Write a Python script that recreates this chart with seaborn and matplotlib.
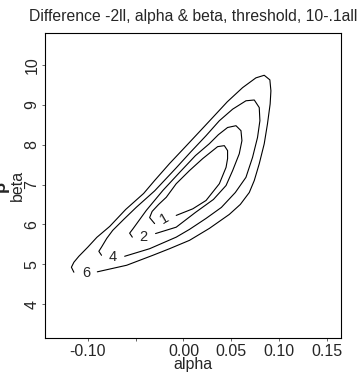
import pandas as pd
import matplotlib.pyplot as plt
import seaborn as sns

sns.set_style("white")
plt.rcParams["font.family"] = ["Liberation Sans", "DejaVu Sans"]

# contour paths (alpha, beta), each starts/ends at its label gap
c1_alpha = [-0.0302, -0.0354, -0.0328, -0.0260, -0.0180, -0.0076, 0.0063, 0.0201,
            0.0357, 0.0427, 0.0461, 0.0461, 0.0445, 0.0375, 0.0236, 0.0097, -0.0076]
c1_beta = [6.02, 6.17, 6.325, 6.50, 6.68, 7.02, 7.35, 7.65,
           7.95, 7.975, 7.85, 7.65, 7.43, 7.02, 6.60, 6.39, 6.225]

c2_alpha = [-0.0535, -0.0563, -0.0528, -0.0389, -0.0216, -0.0042, 0.0125, 0.0271,
            0.0365, 0.0461, 0.0549, 0.0601, 0.0611, 0.0583, 0.0514, 0.0445,
            0.0313, 0.0125, -0.0076, -0.0292]
c2_beta = [5.68, 5.78, 5.89, 6.35, 6.85, 7.30, 7.725, 8.025,
           8.25, 8.43, 8.475, 8.35, 8.10, 7.77, 7.35, 6.975,
           6.625, 6.30, 5.93, 5.77]

c4_alpha = [-0.0857, -0.0885, -0.0857, -0.0802, -0.0740, -0.0625, -0.0493, -0.0302,
            -0.0083, 0.0073, 0.0236, 0.0375, 0.0514, 0.0653, 0.0740, 0.0792,
            0.0799, 0.0774, 0.0722, 0.0653, 0.0542, 0.0396, 0.0236, 0.0063,
            -0.0076, -0.0354, -0.0615]
c4_beta = [5.225, 5.325, 5.43, 5.65, 5.85, 6.125, 6.43, 6.84,
           7.40, 7.81, 8.225, 8.60, 8.89, 9.10, 9.12, 8.93,
           8.60, 8.18, 7.68, 7.18, 6.80, 6.425, 6.15, 5.875,
           5.68, 5.39, 5.20]

c6_alpha = [-0.1146, -0.1172, -0.1146, -0.1094, -0.1000, -0.0906, -0.0771, -0.0604,
            -0.0417, -0.0302, -0.0146, 0.0021, 0.0177, 0.0313, 0.0458, 0.0618,
            0.0757, 0.0844, 0.0903, 0.0914, 0.0906, 0.0878, 0.0844, 0.0792,
            0.0740, 0.0688, 0.0594, 0.0479, 0.0271, 0.0063, -0.0146, -0.0320,
            -0.0594, -0.0901]
c6_beta = [4.80, 4.925, 5.05, 5.20, 5.43, 5.675, 5.95, 6.375,
           6.775, 7.10, 7.525, 7.95, 8.35, 8.70, 9.075, 9.43,
           9.675, 9.74, 9.625, 9.35, 9.02, 8.52, 8.02, 7.52,
           7.10, 6.80, 6.50, 6.25, 5.90, 5.60, 5.39, 5.225,
           4.975, 4.81]

levels = ["1", "2", "4", "6"]
label_alpha = [-0.0198, -0.0424, -0.0736, -0.1021]
label_beta = [6.15, 5.68, 5.18, 4.775]

x_ticks = [-0.10, -0.05, 0.00, 0.05, 0.10, 0.15]
x_labels = ["-0.10", "", "0.00", "0.05", "0.10", "0.15"]
y_ticks = [4, 5, 6, 7, 8, 9, 10]

paths = {"1": (c1_alpha, c1_beta), "2": (c2_alpha, c2_beta),
         "4": (c4_alpha, c4_beta), "6": (c6_alpha, c6_beta)}
df = pd.concat([pd.DataFrame({"alpha": a, "beta": b, "level": lev, "k": range(len(a))})
                for lev, (a, b) in paths.items()])

fig = plt.figure(figsize=(3.6, 3.73), dpi=100)
ax = fig.add_axes([0.125, 0.0938, 0.822, 0.8177])

sns.lineplot(data=df, x="alpha", y="beta", units="level", estimator=None,
             sort=False, color="black", linewidth=0.8, ax=ax)

for lev, xa, yb in zip(levels, label_alpha, label_beta):
    ax.text(xa, yb, lev, ha="center", va="center", fontsize=10.5,
            rotation=30 if lev == "1" else 0)

ax.set_xlim(-0.1448, 0.1646)
ax.set_ylim(3.15, 10.8)
ax.set_xticks(x_ticks)
ax.set_xticklabels(x_labels)
ax.set_yticks(y_ticks)
ax.set_yticklabels([str(v) for v in y_ticks], rotation=90, va="center")
ax.tick_params(length=2, width=0.5, labelsize=11.5, pad=2, direction="out",
               bottom=True, left=True)
for s in ax.spines.values():
    s.set_color("black")
    s.set_linewidth(0.8)

ax.set_xlabel("alpha", fontsize=11.5, labelpad=-1)
ax.set_ylabel("beta", fontsize=11.5, labelpad=0)
ax.set_title("Difference -2ll, alpha & beta, threshold, 10-.1all", fontsize=11.3, pad=9)
fig.text(0.0, 0.5, "\u03b2", rotation=90, fontsize=13, ha="center", va="center",
         fontweight="bold")

fig.savefig("out.png", dpi=100)
